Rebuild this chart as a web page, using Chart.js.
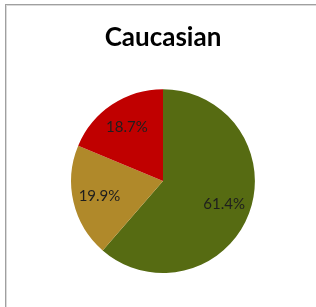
<!DOCTYPE html>
<html>
<head>
<meta charset="utf-8">
<script src="https://cdn.jsdelivr.net/npm/chart.js@4"></script>
<style>
	html, body { margin: 0; padding: 0; background: #fff; }
	#wrap { position: relative; width: 316px; height: 307px; overflow: hidden; }
	#frame {
		position: absolute; left: 5px; top: 4px; width: 400px; height: 400px;
		border: 1px solid #a0a0a0; box-shadow: inset 1px 1px 0 #dadada;
	}
	canvas { position: absolute; left: 0; top: 0; }
</style>
</head>
<body>
<div id="wrap">
	<div id="frame"></div>
	<canvas id="myChart" width="316" height="307"></canvas>
</div>
<script>
const categories = ['Other', 'Group B', 'Group C'];
const shares = [61.4, 19.9, 18.7];
const sliceColors = ['#566b12', '#b0892a', '#c00000'];

// percent labels placed at ~71% of the radius, like the original
const sliceLabels = {
	id: 'sliceLabels',
	afterDatasetsDraw(chart) {
		const ctx = chart.ctx;
		const meta = chart.getDatasetMeta(0);
		ctx.save();
		ctx.font = '15px Lato';
		ctx.fillStyle = '#1e1e1e';
		ctx.textAlign = 'center';
		ctx.textBaseline = 'middle';
		meta.data.forEach((arc, i) => {
			const mid = (arc.startAngle + arc.endAngle) / 2;
			const r = arc.outerRadius * 0.71;
			ctx.fillText(shares[i].toFixed(1) + '%', arc.x + Math.cos(mid) * r, arc.y + Math.sin(mid) * r);
		});
		ctx.restore();
	}
};

new Chart(document.getElementById('myChart'), {
	type: 'pie',
	data: {
		labels: categories,
		datasets: [{
			data: shares,
			backgroundColor: sliceColors,
			borderWidth: 0
		}]
	},
	options: {
		responsive: false,
		animation: false,
		layout: { padding: { top: 0, bottom: 34, left: 60, right: 50 } },
		plugins: {
			legend: { display: false },
			tooltip: { enabled: false },
			title: {
				display: true,
				text: 'Caucasian',
				color: '#000',
				font: { family: 'Lato', size: 26, weight: 'bold', lineHeight: 1.2 },
				padding: { top: 22, bottom: 36 }
			}
		}
	},
	plugins: [sliceLabels]
});
</script>
</body>
</html>
